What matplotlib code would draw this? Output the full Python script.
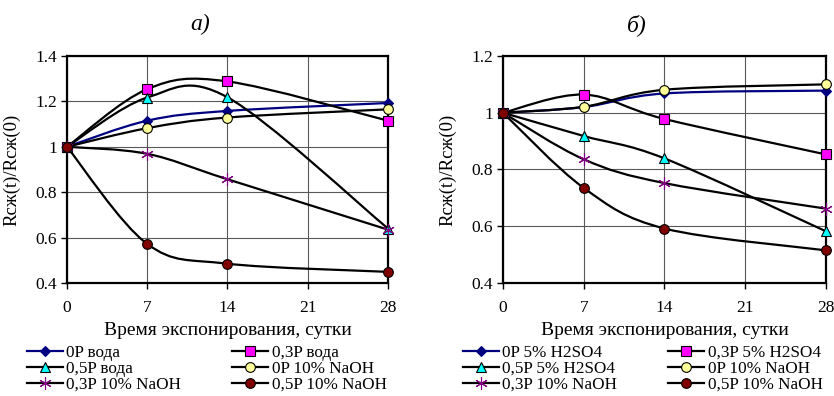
import matplotlib
matplotlib.use('Agg')
import matplotlib.pyplot as plt
from matplotlib.path import Path
from matplotlib.patches import PathPatch
from matplotlib.lines import Line2D
from matplotlib.ticker import FormatStrFormatter
import numpy as np

plt.rcParams['font.family'] = ['Liberation Serif', 'DejaVu Serif']

days = [0, 7, 14, 28]

# а) вода / NaOH
a_0p_voda = [1.0, 1.115, 1.158, 1.193]
a_03p_voda = [1.0, 1.254, 1.288, 1.115]
a_05p_voda = [1.0, 1.217, 1.218, 0.640]
a_0p_naoh = [1.0, 1.082, 1.129, 1.165]
a_03p_naoh = [1.0, 0.969, 0.857, 0.635]
a_05p_naoh = [1.0, 0.572, 0.485, 0.449]

# б) H2SO4 / NaOH
b_0p_h2so4 = [1.0, 1.020, 1.068, 1.078]
b_03p_h2so4 = [1.0, 1.064, 0.978, 0.853]
b_05p_h2so4 = [1.0, 0.918, 0.839, 0.582]
b_0p_naoh = [1.0, 1.021, 1.081, 1.100]
b_03p_naoh = [1.0, 0.836, 0.752, 0.662]
b_05p_naoh = [1.0, 0.735, 0.592, 0.515]

labels_a = ['0P вода', '0,3P вода', '0,5P вода',
            '0P 10% NaOH', '0,3P 10% NaOH', '0,5P 10% NaOH']
labels_b = ['0P 5% H2SO4', '0,3P 5% H2SO4', '0,5P 5% H2SO4',
            '0P 10% NaOH', '0,3P 10% NaOH', '0,5P 10% NaOH']

# стиль: цвет линии, маркер, заливка, кромка, размер
styles = [
    ('#000080', 'D', '#000080', '#000080', 5.5),
    ('black', 's', '#FF00FF', 'black', 7),
    ('black', '^', '#00FFFF', 'black', 7.5),
    ('black', 'o', '#FFFF99', 'black', 7),
    ('black', (6, 2, 0), '#800080', '#800080', 9),
    ('black', 'o', '#800000', 'black', 7),
]


def smooth_path(x, y):
    # сглаженная линия как в Excel (Catmull-Rom -> Bezier)
    p = np.column_stack([x, y]).astype(float)
    pp = np.vstack([p[0], p, p[-1]])
    verts = [p[0]]
    codes = [Path.MOVETO]
    for i in range(len(p) - 1):
        c1 = pp[i + 1] + (pp[i + 2] - pp[i]) / 6
        c2 = pp[i + 2] - (pp[i + 3] - pp[i + 1]) / 6
        verts += [c1, c2, pp[i + 2]]
        codes += [Path.CURVE4] * 3
    return Path(verts, codes)


def draw_panel(ax, series, labels, ymax, title, title_x, legend_x):
    for s, (lc, mk, fc, ec, ms) in zip(series, styles):
        ax.add_patch(PathPatch(smooth_path(days, s), facecolor='none',
                               edgecolor=lc, linewidth=1.6, zorder=3))
    for s, (lc, mk, fc, ec, ms) in zip(series, styles):
        ax.plot(days, s, linestyle='none', marker=mk, markersize=ms,
                markerfacecolor=fc, markeredgecolor=ec, markeredgewidth=0.8,
                zorder=4, clip_on=False)

    ax.set_xlim(0, 28)
    ax.set_ylim(0.4, ymax)
    ax.set_xticks([0, 7, 14, 21, 28])
    ax.set_yticks(np.arange(0.4, ymax + 0.01, 0.2))
    ax.yaxis.set_major_formatter(FormatStrFormatter('%g'))
    ax.grid(True, color='0.35', linewidth=0.8)
    ax.set_axisbelow(True)
    for sp in ax.spines.values():
        sp.set_linewidth(1.6)
    ax.tick_params(direction='out', length=4, width=1, labelsize=12.5, pad=3)
    ax.tick_params(axis='x', pad=8)

    ax.set_xlabel('Время экспонирования, сутки', fontsize=14)
    ax.xaxis.set_label_coords(0.5, -0.17)
    ax.set_ylabel('Rсж(t)/Rсж(0)', fontsize=13.5)
    ax.yaxis.set_label_coords(-0.145, 0.5)

    ax.figure.text(title_x, 0.937, title, fontsize=17, style='italic',
                   ha='center', va='center')

    handles = []
    for lc, mk, fc, ec, ms in styles:
        handles.append(Line2D([], [], color=lc, linewidth=1.6, marker=mk,
                              markersize=ms, markerfacecolor=fc,
                              markeredgecolor=ec, markeredgewidth=0.8))
    order = [0, 2, 4, 1, 3, 5]
    ax.legend([handles[i] for i in order], [labels[i] for i in order],
              ncol=2, loc='upper left', bbox_to_anchor=(legend_x, 0.13),
              bbox_transform=ax.figure.transFigure, frameon=False,
              fontsize=12.3, handlelength=2.1, handletextpad=0.2,
              columnspacing=3.0, labelspacing=0.0, borderpad=0,
              borderaxespad=0)


fig = plt.figure(figsize=(8.34, 3.96), dpi=100)
ax1 = fig.add_axes([0.0803, 0.2854, 0.3849, 0.5732])
ax2 = fig.add_axes([0.6031, 0.2854, 0.3873, 0.5732])

draw_panel(ax1, [a_0p_voda, a_03p_voda, a_05p_voda,
                 a_0p_naoh, a_03p_naoh, a_05p_naoh],
           labels_a, 1.4, 'а)', 0.240, 0.032)
draw_panel(ax2, [b_0p_h2so4, b_03p_h2so4, b_05p_h2so4,
                 b_0p_naoh, b_03p_naoh, b_05p_naoh],
           labels_b, 1.2, 'б)', 0.764, 0.555)

plt.savefig('out.png', dpi=100)
